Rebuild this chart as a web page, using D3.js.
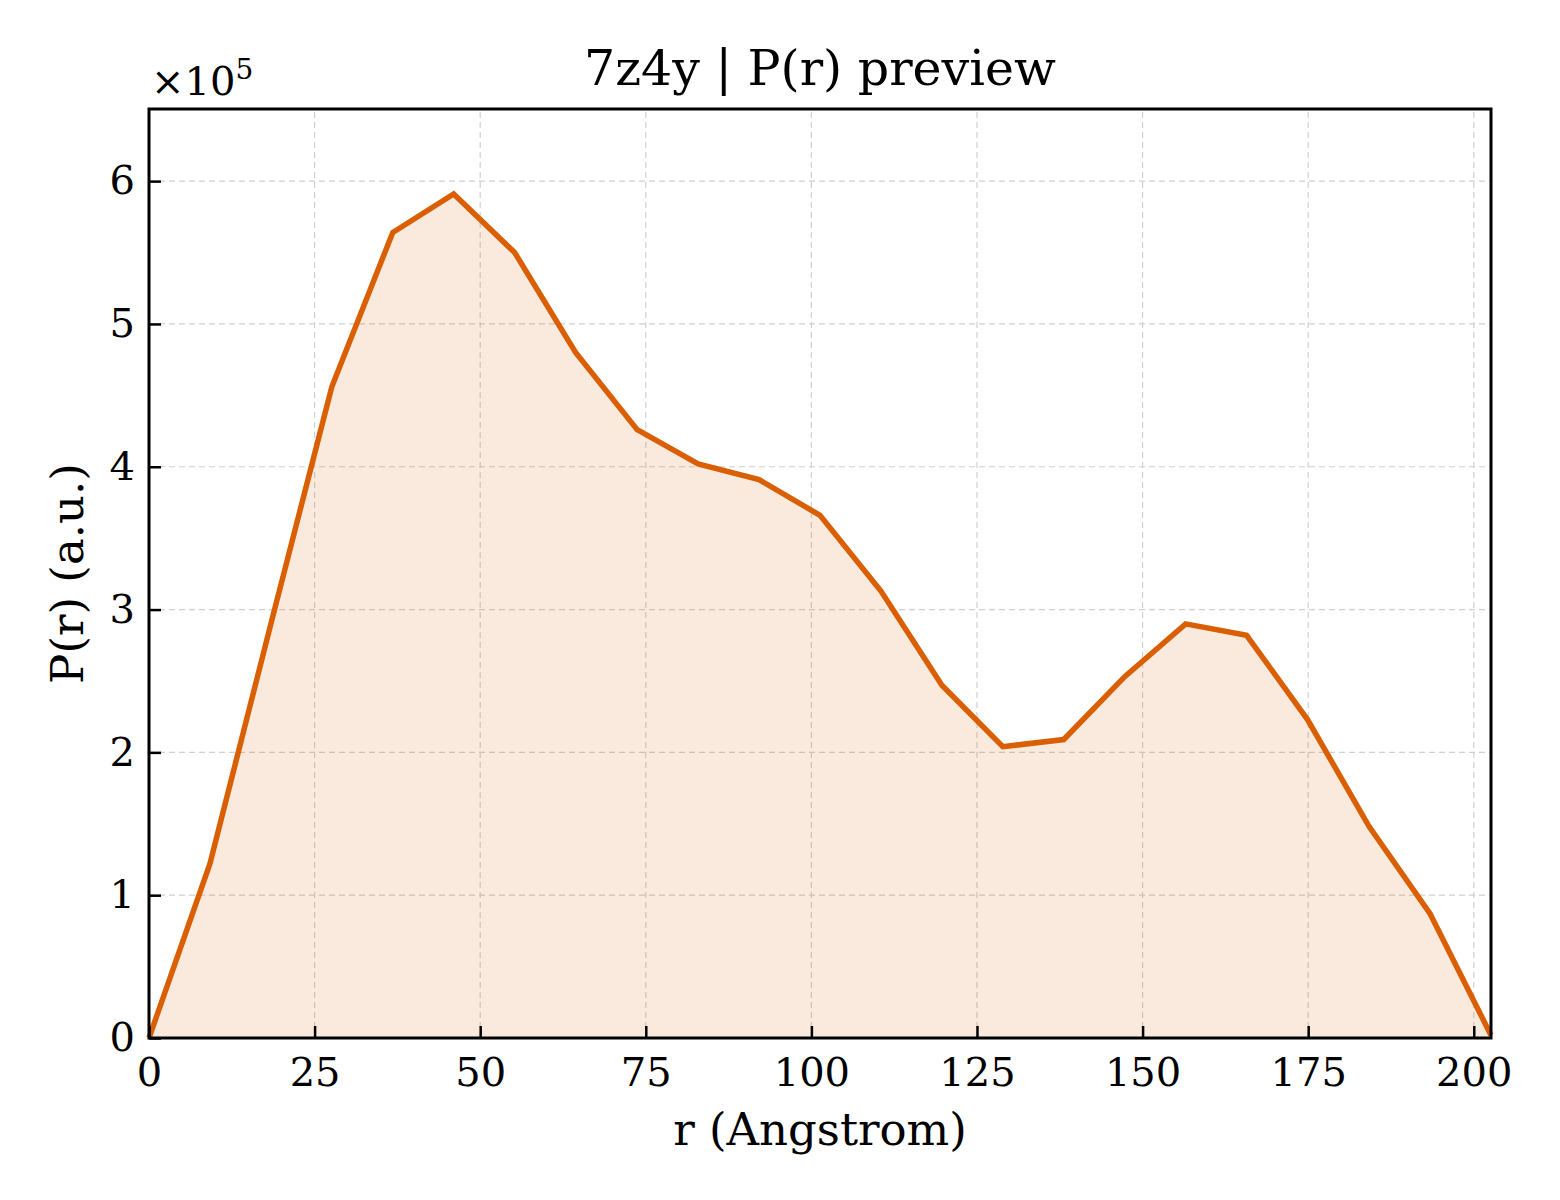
<!DOCTYPE html>
<html>
<head>
<meta charset="utf-8">
<script src="https://cdn.jsdelivr.net/npm/d3@7"></script>
<style>
  body { margin: 0; background: #fff; }
  svg { font-family: "DejaVu Serif", serif; }
  .grid line { stroke: #d0d0d0; stroke-width: 1.2; stroke-dasharray: 6,4; }
</style>
</head>
<body>
<svg width="1560" height="1200"></svg>
<script>
// r in Angstrom, P(r) in units of 1e5
const rValues = [0, 9.2, 18.4, 27.6, 36.8, 46.0, 55.2, 64.4, 73.7, 82.9, 92.1,
                 101.3, 110.5, 119.7, 128.9, 138.1, 147.3, 156.5, 165.7, 174.9,
                 184.2, 193.4, 202.6];
const prValues = [0, 1.22, 2.90, 4.56, 5.64, 5.91, 5.50, 4.80, 4.26, 4.02, 3.91,
                  3.66, 3.13, 2.47, 2.04, 2.09, 2.53, 2.90, 2.82, 2.23,
                  1.48, 0.87, 0.02];
const xTicks = [0, 25, 50, 75, 100, 125, 150, 175, 200];
const yTicks = [0, 1, 2, 3, 4, 5, 6];

const data = rValues.map((r, i) => ({ r: r, p: prValues[i] }));

const svg = d3.select("svg");
const margin = { left: 149, right: 69, top: 109, bottom: 162 };
const width = 1560, height = 1200;

const x = d3.scaleLinear()
    .domain([0, 202.6])
    .range([margin.left, width - margin.right]);
const y = d3.scaleLinear()
    .domain([0, 6.505])
    .range([height - margin.bottom, margin.top]);

// grid
svg.append('g').attr('class', 'grid')
    .selectAll('line.v')
    .data(xTicks)
    .enter().append('line')
    .attr('x1', d => x(d)).attr('x2', d => x(d))
    .attr('y1', y.range()[0]).attr('y2', y.range()[1]);
svg.append('g').attr('class', 'grid')
    .selectAll('line.h')
    .data(yTicks)
    .enter().append('line')
    .attr('y1', d => y(d)).attr('y2', d => y(d))
    .attr('x1', x.range()[0]).attr('x2', x.range()[1]);

// filled area + line
const area = d3.area()
    .x(d => x(d.r))
    .y0(y(0))
    .y1(d => y(d.p));
const line = d3.line()
    .x(d => x(d.r))
    .y(d => y(d.p));

svg.append('path')
    .datum(data)
    .attr('d', area)
    .attr('fill', '#d95f02')
    .attr('fill-opacity', 0.13);

svg.append('path')
    .datum(data)
    .attr('d', line)
    .attr('fill', 'none')
    .attr('stroke', '#d95f02')
    .attr('stroke-width', 5.5)
    .attr('stroke-linejoin', 'miter');

// axes (ticks pointing in)
const xAxis = svg.append('g')
    .attr('transform', `translate(0,${y(0)})`)
    .call(d3.axisBottom(x).tickValues(xTicks).tickSizeInner(-12).tickSizeOuter(0).tickPadding(20));
const yAxis = svg.append('g')
    .attr('transform', `translate(${x(0)},0)`)
    .call(d3.axisLeft(y).tickValues(yTicks).tickFormat(d3.format('d'))
        .tickSizeInner(-12).tickSizeOuter(0).tickPadding(14));

[xAxis, yAxis].forEach(g => {
    g.select('.domain').remove();
    g.selectAll('.tick line').attr('stroke', '#000').attr('stroke-width', 2.5);
    g.selectAll('.tick text')
        .attr('fill', '#000')
        .style('font-family', '"DejaVu Serif", serif')
        .style('font-size', '40px');
});

// frame
svg.append('rect')
    .attr('x', x.range()[0]).attr('y', y.range()[1])
    .attr('width', x.range()[1] - x.range()[0])
    .attr('height', y.range()[0] - y.range()[1])
    .attr('fill', 'none')
    .attr('stroke', '#000')
    .attr('stroke-width', 3);

// texts
svg.append('text')
    .attr('x', (x.range()[0] + x.range()[1]) / 2)
    .attr('y', 85)
    .attr('text-anchor', 'middle')
    .style('font-size', '49px')
    .text('7z4y | P(r) preview');

svg.append('text')
    .attr('x', (x.range()[0] + x.range()[1]) / 2)
    .attr('y', 1145)
    .attr('text-anchor', 'middle')
    .style('font-size', '45px')
    .text('r (Angstrom)');

svg.append('text')
    .attr('transform', `translate(83,${(y.range()[0] + y.range()[1]) / 2}) rotate(-90)`)
    .attr('text-anchor', 'middle')
    .style('font-size', '45px')
    .text('P(r) (a.u.)');

const mult = svg.append('text')
    .attr('x', 151)
    .attr('y', 95)
    .style('font-size', '40px');
mult.append('tspan').text('×10');
mult.append('tspan').attr('dy', -16).style('font-size', '28px').text('5');
</script>
</body>
</html>
